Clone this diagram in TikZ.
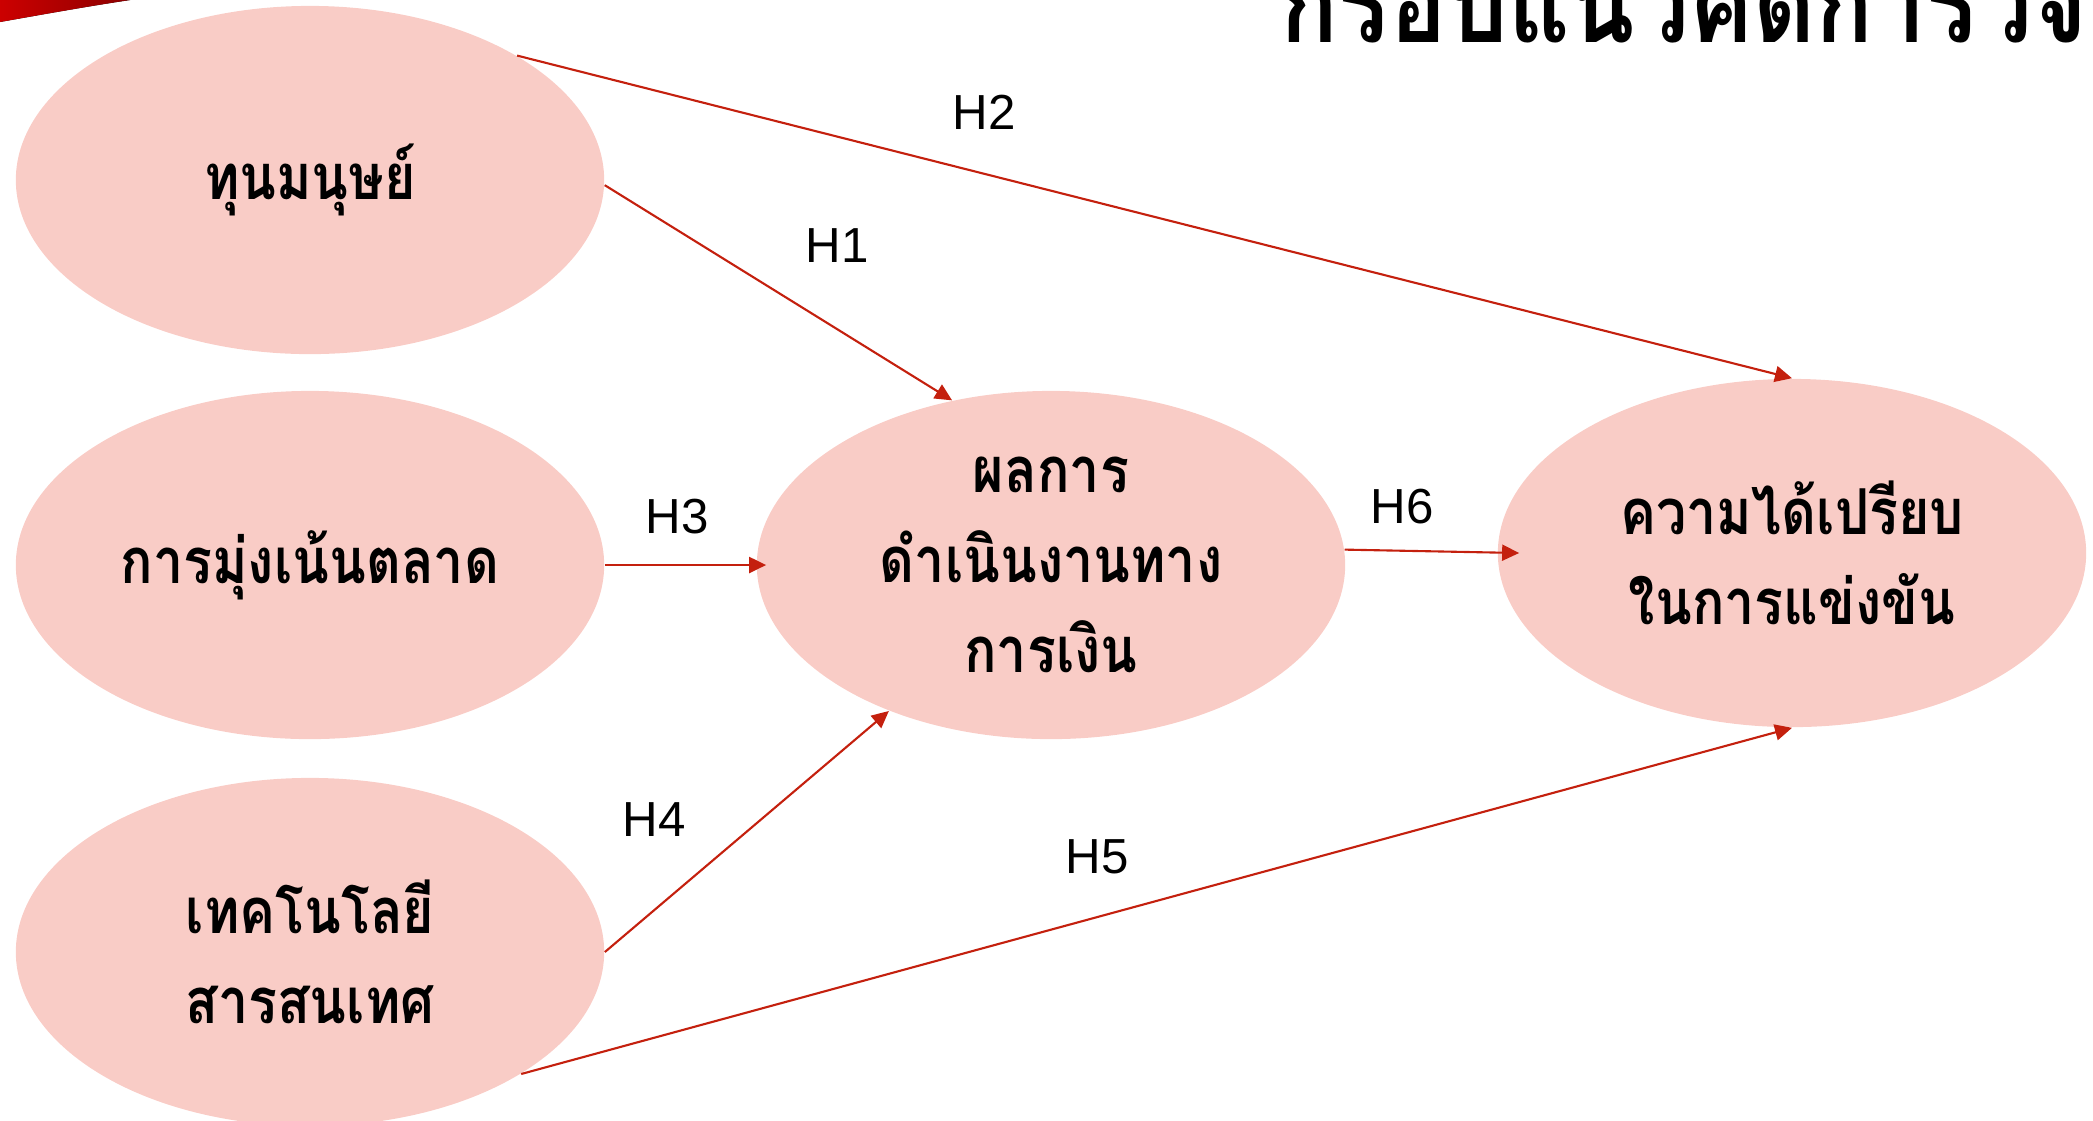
\documentclass[tikz,border=0pt]{standalone}
\usepackage{fontspec}
\setmainfont{Liberation Sans}
\newfontfamily\thaifont[Script=Thai,FakeStretch=0.85]{Loma}
\usetikzlibrary{shapes.geometric,arrows.meta}
\definecolor{ovalpink}{RGB}{249,204,198}
\definecolor{arrowred}{RGB}{196,32,14}
\definecolor{swooshred}{RGB}{140,0,0}

\begin{document}
\begin{tikzpicture}[x=0.01cm,y=-0.01cm,
		factor/.style={ellipse, fill=ovalpink, minimum width=5.88cm, minimum height=3.48cm, inner sep=0pt, align=center, font=\thaifont\bfseries\fontsize{18}{25.5}\selectfont},
		hyp/.style={arrowred, line width=0.6pt, -{Triangle[length=1.7mm,width=1.6mm]}},
		hlabel/.style={font=\fontsize{14}{16}\selectfont}]
		\useasboundingbox (0,0) rectangle (2093,1120);
		\clip (0,0) rectangle (2093,1120);
		\fill[left color=red!80!black, right color=swooshred] (0,0) -- (0,22) .. controls (45,14) and (90,6) .. (130,0) -- cycle;
		\node[anchor=base west, inner sep=0pt, font=\thaifont\bfseries\fontsize{32}{34}\selectfont] (title) at (1280,42) {กรอบแนวคิดการวิจัย};

		\node[factor] (e1) at (310,180) {ทุนมนุษย์};
		\node[factor] (e2) at (310,565) {การมุ่งเน้นตลาด};
		\node[factor] (e3) at (310,952) {เทคโนโลยี\\สารสนเทศ};
		\node[factor] (e4) at (1051,565) {ผลการ\\ดำเนินงานทาง\\การเงิน};
		\node[factor] (e5) at (1792,553) {ความได้เปรียบ\\ในการแข่งขัน};

		\draw[hyp] (e1.31) -- (e5.north);
		\draw[hyp] (e1.-1) -- (e4.121);
		\draw[hyp] (e2.east) -- ([xshift=1mm]e4.west);
		\draw[hyp] (e4.3) -- ([xshift=2.2mm]e5.west);
		\draw[hyp] (e3.east) -- (e4.222);
		\draw[hyp] (e3.-30) -- (e5.south);

		\foreach \name/\pos in {h1/{(837,246)}, h2/{(984,112)}, h3/{(677,517)}, h4/{(654,820)}, h5/{(1097,857)}, h6/{(1402,507)}}
			\node[hlabel] (\name) at \pos {\MakeUppercase{\name}};
	\end{tikzpicture}
\end{document}
